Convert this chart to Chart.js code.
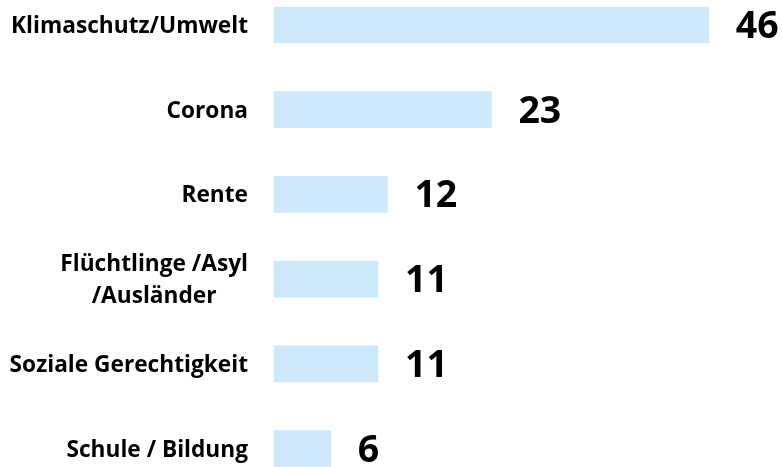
<!DOCTYPE html>
<html>
<head>
<meta charset="utf-8">
<script src="https://cdn.jsdelivr.net/npm/chart.js@4/dist/chart.umd.min.js"></script>
<style>
html,body{margin:0;padding:0;background:#fff;}
#wrap{width:782px;height:467px;}
</style>
</head>
<body>
<div id="wrap"><canvas id="c" width="782" height="467"></canvas></div>
<script>
const categories = [
  ["Klimaschutz/Umwelt"],
  ["Corona"],
  ["Rente"],
  ["Flüchtlinge /Asyl", "/Ausländer"],
  ["Soziale Gerechtigkeit"],
  ["Schule / Bildung"]
];
const values = [46, 23, 12, 11, 11, 6];

const labelPlugin = {
  id: 'labelPlugin',
  afterDatasetsDraw(chart) {
    const ctx = chart.ctx;
    const y = chart.scales.y;
    const meta = chart.getDatasetMeta(0);
    ctx.save();
    ctx.fillStyle = '#000';
    // category labels
    ctx.font = 'bold 22.7px "Open Sans"';
    ctx.textBaseline = 'alphabetic';
    const right = chart.chartArea.left - 26;
    const lineH = 32;
    const cap = 8;
    categories.forEach((lines, i) => {
      const cy = y.getPixelForValue(i);
      const w = Math.max(...lines.map(l => ctx.measureText(l).width));
      const cx = right - w / 2;
      ctx.textAlign = 'center';
      const start = cy - (lines.length - 1) * lineH / 2;
      lines.forEach((l, j) => ctx.fillText(l, cx, start + j * lineH + cap));
    });
    // value labels
    ctx.font = 'bold 37.5px "Open Sans"';
    ctx.textAlign = 'left';
    meta.data.forEach((bar, i) => {
      ctx.fillText(String(values[i]), bar.x + 27, bar.y + 13);
    });
    ctx.restore();
  }
};

function draw() {
  new Chart(document.getElementById('c'), {
    type: 'bar',
    data: {
      labels: categories.map(c => c.join(' ')),
      datasets: [{
        data: values,
        backgroundColor: '#cde9fb',
        borderWidth: 0,
        barThickness: 36,
        clip: false
      }]
    },
    options: {
      indexAxis: 'y',
      responsive: false,
      animation: false,
      devicePixelRatio: 1,
      layout: { padding: { left: 274, right: 0, top: 25, bottom: 18.5 } },
      plugins: { legend: { display: false }, tooltip: { enabled: false } },
      scales: {
        x: { type: 'linear', min: 0, max: 53.75, display: false },
        y: { type: 'category', offset: false, display: false }
      }
    },
    plugins: [labelPlugin]
  });
}
if (document.fonts && document.fonts.load) {
  Promise.all([document.fonts.load('bold 22.7px "Open Sans"'), document.fonts.load('bold 37.5px "Open Sans"')]).then(draw, draw);
} else { draw(); }
</script>
</body>
</html>
